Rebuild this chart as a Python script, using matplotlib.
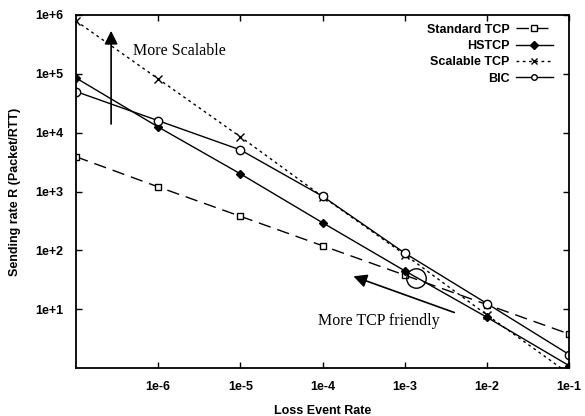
import numpy as np
import matplotlib
matplotlib.use('Agg')
import matplotlib.pyplot as plt
from matplotlib.ticker import FixedLocator, NullLocator

# loss event rates and sending rates
loss = [1e-7, 1e-6, 1e-5, 1e-4, 1e-3, 1e-2, 1e-1]
std_tcp = [3.9e3, 1.2e3, 380, 120, 38, 12, 3.8]
hstcp = [8.5e4, 1.25e4, 2.0e3, 295, 45, 7.3, 1.1]
scalable = [7.9e5, 8.2e4, 8.5e3, 820, 85, 8.0, 0.8]
bic = [5.0e4, 1.6e4, 5.1e3, 830, 90, 12.5, 1.7]

xticks = [1e-6, 1e-5, 1e-4, 1e-3, 1e-2, 1e-1]
xlabels = ['1e-6', '1e-5', '1e-4', '1e-3', '1e-2', '1e-1']
yticks = [1e1, 1e2, 1e3, 1e4, 1e5, 1e6]
ylabels = ['1e+1', '1e+2', '1e+3', '1e+4', '1e+5', '1e+6']

plt.rcParams['font.family'] = ['Liberation Sans', 'DejaVu Sans']

fig = plt.figure(figsize=(5.85, 4.16), dpi=100)
ax = fig.add_axes([0.130, 0.115, 0.843, 0.849])

ax.plot(loss, std_tcp, color='black', lw=1, dashes=(9, 5), marker='s',
        mfc='white', mec='black', ms=5, label='Standard TCP')
ax.plot(loss, hstcp, color='black', lw=1, marker='D', mfc='black',
        ms=4, label='HSTCP')
ax.plot(loss, scalable, color='black', lw=1, dashes=(2, 2.5), marker='x',
        ms=6, label='Scalable TCP')
ax.plot(loss, bic, color='black', lw=1, marker='o', mfc='white',
        mec='black', ms=6, label='BIC')

ax.set_xscale('log')
ax.set_yscale('log')
ax.set_xlim(1e-7, 1e-1)
ax.set_ylim(1, 1e6)

ax.xaxis.set_major_locator(FixedLocator(xticks))
ax.yaxis.set_major_locator(FixedLocator(yticks))
ax.xaxis.set_minor_locator(NullLocator())
ax.yaxis.set_minor_locator(NullLocator())
ax.set_xticklabels(xlabels, fontweight='bold', fontsize=9)
ax.set_yticklabels(ylabels, fontweight='bold', fontsize=9)
ax.tick_params(direction='in', top=True, right=True, length=4, width=1, pad=9)
for s in ax.spines.values():
    s.set_linewidth(1.3)

ax.set_xlabel('Loss Event Rate', fontweight='bold', fontsize=9, labelpad=9)
ax.set_ylabel('Sending rate R (Packet/RTT)', fontweight='bold', fontsize=9,
              labelpad=10)

leg = ax.legend(loc='upper right', bbox_to_anchor=(0.985, 1.0),
                frameon=False, markerfirst=False,
                handlelength=3.0, labelspacing=0.35, handletextpad=0.5,
                borderaxespad=0.3, prop={'weight': 'bold', 'size': 9})
for h in leg.legend_handles:
    h.set_markersize(4)

# annotations
ax.annotate('', xy=(2.67e-7, 6.0e5), xytext=(2.67e-7, 1.26e4),
            arrowprops=dict(arrowstyle='-|>', color='black', lw=1.2,
                            mutation_scale=20))
ax.text(4.95e-7, 2.44e5, 'More Scalable', family='Liberation Serif',
        fontsize=11.5, va='center')

ax.annotate('', xy=(2.2e-4, 37.7), xytext=(4.3e-3, 8.5),
            arrowprops=dict(arrowstyle='-|>', color='black', lw=1.2,
                            mutation_scale=20))
ax.text(8.9e-5, 6.3, 'More TCP friendly', family='Liberation Serif',
        fontsize=11.5, va='center')
ax.plot([1.35e-3], [34], marker='o', ms=14, mfc='none', mec='black', mew=1)

fig.savefig('out.png', dpi=100)
